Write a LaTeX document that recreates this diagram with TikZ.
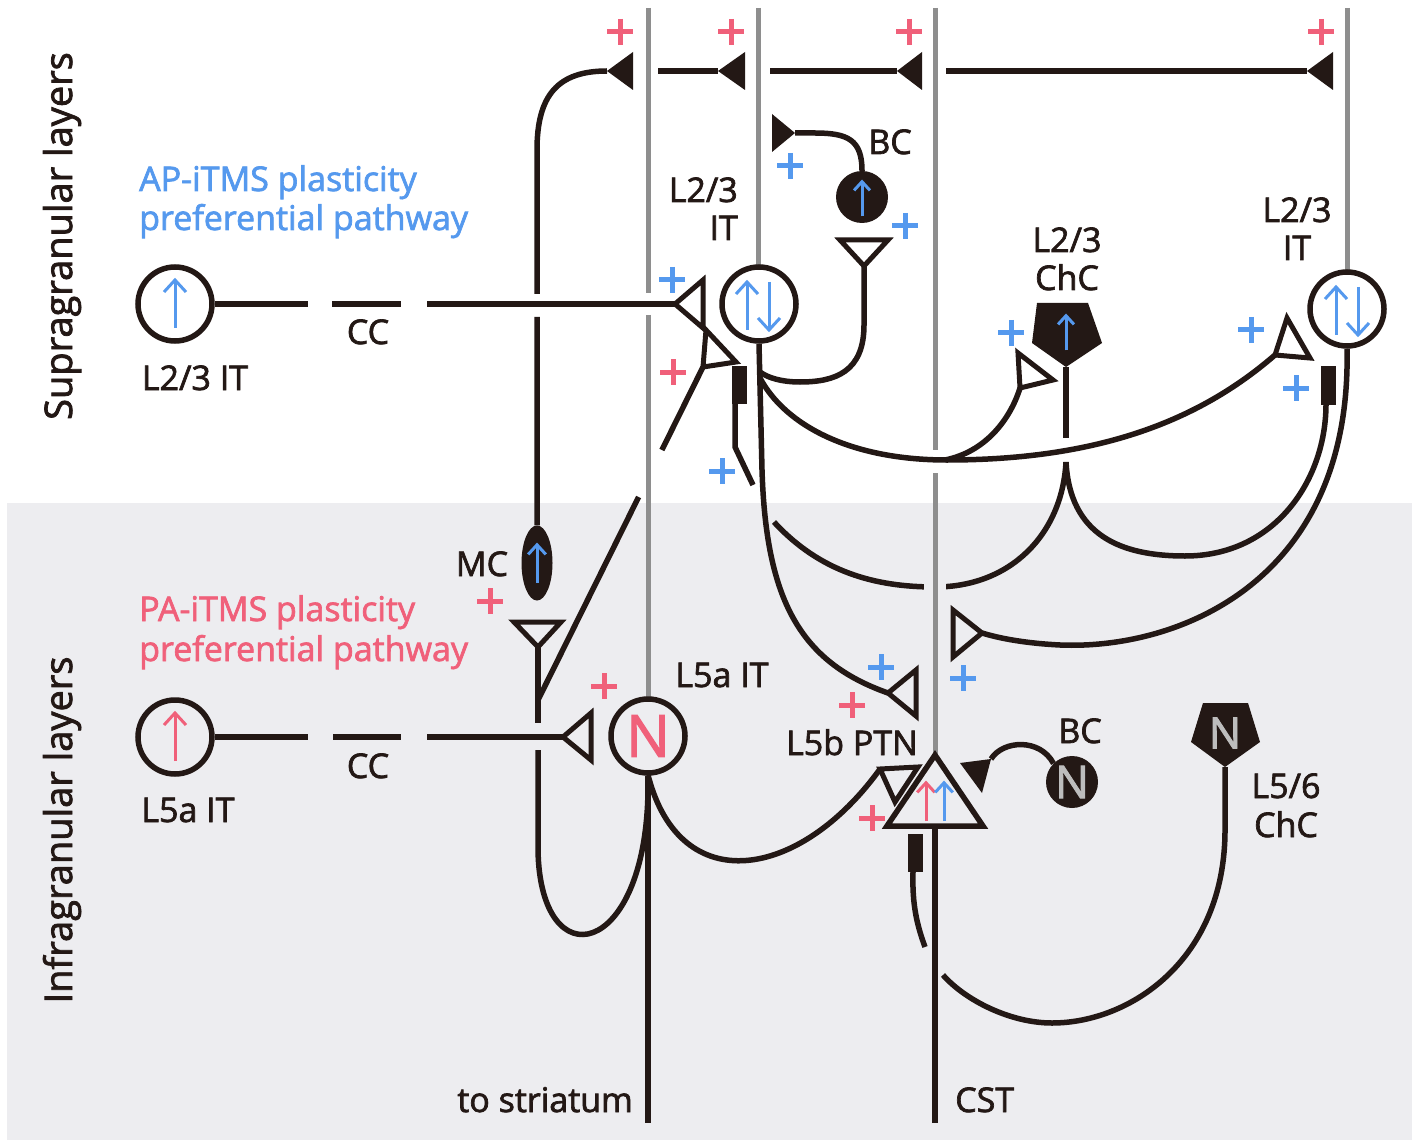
\documentclass[tikz,border=0pt]{standalone}
\usepackage{fontspec}
\setmainfont{Open Sans}[FakeBold=2]
\usetikzlibrary{shapes.geometric}
\definecolor{nblack}{HTML}{231815}
\definecolor{dgray}{HTML}{8E8E8E}
\definecolor{bggray}{HTML}{EDEDF0}
\definecolor{cpink}{HTML}{F0607A}
\definecolor{cblue}{HTML}{5599EE}
\definecolor{ngray}{HTML}{BDBDBD}
\begin{document}
\begin{tikzpicture}[x=1pt,y=-1pt]
\tikzset{
  ax/.style={draw=nblack, line width=5.5pt},
  dend/.style={draw=dgray, line width=5pt},
  synopen/.style={draw=nblack, line width=5pt, line join=miter},
  cell/.style={circle, draw=nblack, line width=5.5pt, minimum size=74pt, inner sep=0pt},
  bcc/.style={circle, fill=nblack, minimum size=52pt, inner sep=0pt},
  lbl/.style={font=\fontsize{34}{40}\selectfont, text=nblack, inner sep=0pt},
  side/.style={font=\fontsize{38}{40}\selectfont, text=nblack, inner sep=0pt, rotate=90, anchor=base},
  plus/.pic={\draw[line width=5pt] (-13,0)--(13,0) (0,-13)--(0,13);},
  uarr/.pic={\draw[line width=3pt] (0,24)--(0,-23); \draw[line width=3pt, line join=miter] (-11,-12)--(0,-24)--(11,-12);},
  darr/.pic={\draw[line width=3pt] (0,-24)--(0,23); \draw[line width=3pt, line join=miter] (-11,12)--(0,24)--(11,12);}
}
\useasboundingbox (0,0) rectangle (1418,1147);
\fill[white] (0,0) rectangle (1418,1147);
\fill[bggray] (7,503) rectangle (1412,1140);

% ---- L2/3 ChC axon arcs (behind the dendrite line) ----
\coordinate (cusp) at (1066,462);
\draw[ax] (774,522) .. controls (820,572) and (875,587) .. (935,587) .. controls (1010,587) and (1062,535) .. (cusp);
\fill[bggray] (924,574) rectangle (946,600);
\draw[ax] (cusp) .. controls (1070,535) and (1120,556) .. (1185,556) .. controls (1275,556) and (1326,480) .. (1326,404);
\draw[ax] (753,485) -- (735,447) -- (735,403);
\fill[nblack] (732,366) rectangle (747,404);
\fill[nblack] (1321,366) rectangle (1336,405);

% ---- apical dendrites ----
\draw[dend] (648,8) -- (648,293) (648,315) -- (648,700);
\draw[dend] (758,8) -- (758,268);
\draw[dend] (935,8) -- (935,450) (935,473) -- (935,757);
\draw[dend] (1347,8) -- (1347,272);

% ---- cells ----
\node[cell] (it1) at (175,304) {};
\node[cell] (it2) at (759,304) {};
\node[cell] (it5) at (1347,309) {};
\node[cell] (it3) at (175,737) {};
\node[cell, font=\fontsize{58}{58}\selectfont, text=cpink] (it4) at (648,736) {N};
\node[bcc] (bc1) at (862,197) {};
\node[bcc, font=\fontsize{45}{45}\selectfont, text=ngray] (bc2) at (1072,782) {N};
\node[ellipse, fill=nblack, minimum width=31pt, minimum height=75pt, inner sep=0pt] (mc) at (537,563) {};
\fill[nblack] (1037,303) -- (1088,303) -- (1102,343) -- (1066,367) -- (1032,343) -- cycle;
\coordinate (chc1) at (1066,367);
\fill[nblack] (1203,703) -- (1248,703) -- (1260,742) -- (1225,767) -- (1191,742) -- cycle;
\coordinate (chc2) at (1225,767);
\node[font=\fontsize{43}{43}\selectfont, text=ngray, inner sep=0pt] (chc2n) at (1225,733) {N};
\draw[ax, line join=miter] (935,755) -- (983,826) -- (887,826) -- cycle;
\coordinate (ptn) at (935,826);

% ---- MC axon and top horizontal axon ----
\draw[ax] (mc.north) -- (537,317) (537,294) -- (537,150) .. controls (537,95) and (558,71) .. (607,71);
\fill[nblack] (607,71) -- (633,52) -- (633,90) -- cycle;
\draw[ax] (658,71) -- (718,71);
\fill[nblack] (718,71) -- (745,52) -- (745,90) -- cycle;
\draw[ax] (770,71) -- (897,71);
\fill[nblack] (897,71) -- (922,52) -- (922,90) -- cycle;
\draw[ax] (946,71) -- (1307,71);
\fill[nblack] (1307,71) -- (1333,52) -- (1333,90) -- cycle;

% ---- upper BC ----
\draw[ax] (bc1.north) .. controls (862,140) and (848,133) .. (815,133) -- (795,133);
\fill[nblack] (795,133) -- (772,114) -- (772,152) -- cycle;
\draw[synopen] (840,240) -- (888,240) -- (864,266) -- cycle;
\draw[ax] (864,266) -- (864,325) .. controls (864,372) and (835,382) .. (800,382) .. controls (782,382) and (768,378) .. (760,372);

% ---- central L2/3 IT axon ----
\draw[ax] (it2.south) -- (762,470) .. controls (766,600) and (800,662) .. (888,693);
\draw[synopen] (888,693) -- (916,670) -- (916,716) -- cycle;
\draw[ax] (760,378) .. controls (785,425) and (850,460) .. (947,460) .. controls (1100,460) and (1200,420) .. (1275,355);
\draw[synopen] (1275,355) -- (1287,318) -- (1310,358) -- cycle;
\draw[ax] (945,460) .. controls (985,452) and (1010,420) .. (1020,388);
\draw[synopen] (1020,388) -- (1018,353) -- (1053,380) -- cycle;
\draw[ax] (chc1) -- (1066,438);

% ---- CC upper ----
\draw[ax] (it1.east) -- (308,304) (332,304) -- (401,304) (427,304) -- (675,304);
\draw[synopen] (675,304) -- (703,280) -- (703,328) -- cycle;

% ---- L5a IT axon ----
\draw[ax] (538,700) -- (638.6,497) (661.9,450) -- (703,367);
\draw[synopen] (703,367) -- (706,330) -- (736,362) -- cycle;
\draw[synopen] (514,622) -- (561,622) -- (538,647) -- cycle;
\draw[ax] (538,647) -- (538,723);
\draw[ax] (538,750) -- (538,850) .. controls (540,980) and (646,960) .. (648,790);
\draw[ax] (it4.south) -- (648,1123);
\draw[ax] (648,775) .. controls (680,900) and (800,880) .. (880,769);
\draw[synopen] (880,769) -- (918,767) -- (895,802) -- cycle;

% ---- CC lower ----
\draw[ax] (it3.east) -- (308,737) (333,737) -- (401,737) (427,737) -- (563,737);
\draw[synopen] (563,737) -- (591,713) -- (591,760) -- cycle;

% ---- PTN axon, lower BC, L5/6 ChC ----
\draw[ax] (ptn) -- (935,1123);
\fill[nblack] (908,834) rectangle (923,872);
\draw[ax] (913,872) .. controls (912,905) and (917,925) .. (925,947);
\draw[ax] (bc2.135) .. controls (1040,738) and (1003,740) .. (991,759);
\fill[nblack] (991,759) -- (960,763) -- (982,793) -- cycle;
\draw[ax] (chc2) -- (1225,830) .. controls (1225,960) and (1130,1023) .. (1052,1023) .. controls (1010,1023) and (965,1000) .. (943,975);

% ---- right L2/3 IT axon ----
\draw[ax] (it5.south) .. controls (1352,580) and (1180,650) .. (1060,645) .. controls (1020,643) and (995,637) .. (982,633);
\draw[synopen] (982,633) -- (953,610) -- (953,657) -- cycle;

% ---- arrows in cells ----
\pic[color=cblue] at (175,304) {uarr};
\pic[color=cblue] at (747,306) {uarr};
\pic[color=cblue] at (769,306) {darr};
\pic[color=cblue] at (1336,311) {uarr};
\pic[color=cblue] at (1358,311) {darr};
\pic[color=cblue, scale=0.72] at (862,199) {uarr};
\pic[color=cblue, scale=0.72] at (1066,333) {uarr};
\pic[color=cblue, scale=0.8] at (537,564) {uarr};
\pic[color=cpink] at (175,737) {uarr};
\pic[color=cpink, scale=0.8] at (926,802) {uarr};
\pic[color=cblue, scale=0.8] at (944,802) {uarr};

% ---- plus signs ----
\foreach \px in {620,731,909,1321} { \pic[color=cpink] at (\px,32) {plus}; }
\pic[color=cblue] at (790,166) {plus};
\pic[color=cblue] at (905,226) {plus};
\pic[color=cblue] at (672,280) {plus};
\pic[color=cpink] at (673,372) {plus};
\pic[color=cblue] at (722,471) {plus};
\pic[color=cblue] at (1011,333) {plus};
\pic[color=cblue] at (1251,330) {plus};
\pic[color=cblue] at (1296,388) {plus};
\pic[color=cpink] at (490,601) {plus};
\pic[color=cpink] at (604,686) {plus};
\pic[color=cblue] at (881,667) {plus};
\pic[color=cpink] at (852,705) {plus};
\pic[color=cblue] at (963,678) {plus};
\pic[color=cpink] at (872,818) {plus};

% ---- labels ----
\node[side] (tsup) at (72,236) {Supragranular layers};
\node[side] (tinf) at (72,830) {Infragranular layers};
\node[lbl, text=cblue, anchor=base west] (ap1) at (139,191) {AP-iTMS plasticity};
\node[lbl, text=cblue, anchor=base west] (ap2) at (139,230) {preferential pathway};
\node[lbl, text=cpink, anchor=base west] (pa1) at (139,621) {PA-iTMS plasticity};
\node[lbl, text=cpink, anchor=base west] (pa2) at (139,661) {preferential pathway};
\node[lbl, anchor=base] (t1) at (195,390) {L2/3 IT};
\node[lbl, anchor=base] (t2) at (368,344) {CC};
\node[lbl, anchor=base east] (t3) at (738,202) {L2/3};
\node[lbl, anchor=base east] (t4) at (738,240) {IT};
\node[lbl, anchor=base] (t5) at (890,154) {BC};
\node[lbl, anchor=base] (t6) at (1067,252) {L2/3};
\node[lbl, anchor=base] (t7) at (1067,290) {ChC};
\node[lbl, anchor=base] (t8) at (1297,222) {L2/3};
\node[lbl, anchor=base] (t9) at (1297,260) {IT};
\node[lbl, anchor=base] (t10) at (482,576) {MC};
\node[lbl, anchor=base] (t11) at (722,687) {L5a IT};
\node[lbl, anchor=base] (t12) at (368,778) {CC};
\node[lbl, anchor=base] (t13) at (188,822) {L5a IT};
\node[lbl, anchor=base east] (t14) at (918,755) {L5b PTN};
\node[lbl, anchor=base] (t15) at (1080,743) {BC};
\node[lbl, anchor=base] (t16) at (1286,798) {L5/6};
\node[lbl, anchor=base] (t17) at (1286,837) {ChC};
\node[lbl, anchor=base west] (t18) at (955,1112) {CST};
\node[lbl, anchor=base east] (t19) at (633,1112) {to striatum};
\end{tikzpicture}
\end{document}
